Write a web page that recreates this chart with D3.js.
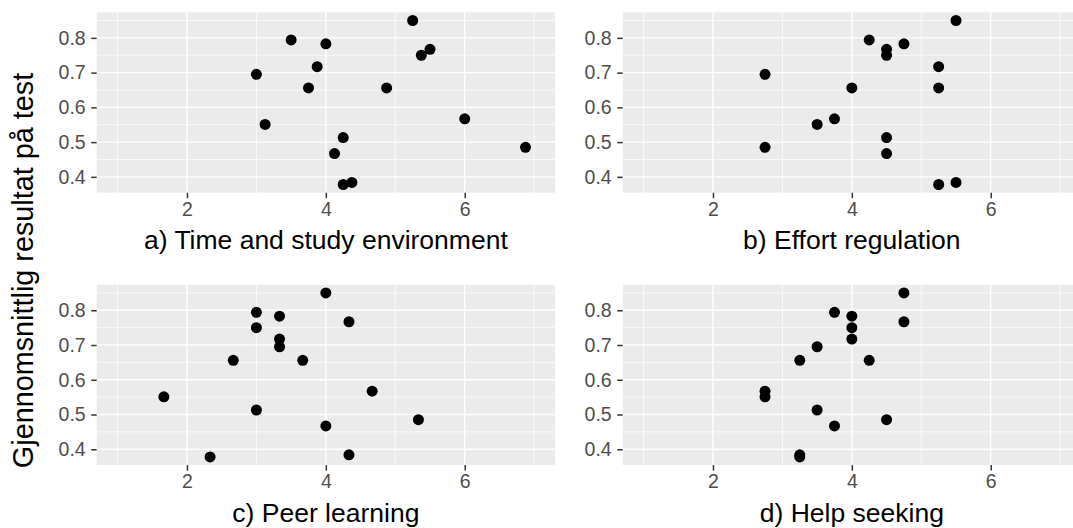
<!DOCTYPE html>
<html>
<head>
<meta charset="utf-8">
<script src="https://cdn.jsdelivr.net/npm/d3@7"></script>
<style>
  body { margin: 0; background: #fff; }
  svg { display: block; font-family: "Liberation Sans", Arial, sans-serif; }
</style>
</head>
<body>
<div class="chart"></div>
<script>
// average test score per student (same students in every panel)
var scores = [0.850, 0.794, 0.783, 0.767, 0.750, 0.717, 0.695, 0.656, 0.656, 0.567, 0.551, 0.513, 0.485, 0.467, 0.378, 0.384]

// self-regulation scale values, one array per panel
var timeEnv = [5.25, 3.5, 4.0, 5.5, 5.375, 3.875, 3.0, 3.75, 4.875, 6.0, 3.125, 4.25, 6.875, 4.125, 4.25, 4.375]
var effort  = [5.5, 4.25, 4.75, 4.5, 4.5, 5.25, 2.75, 4.0, 5.25, 3.75, 3.5, 4.5, 2.75, 4.5, 5.25, 5.5]
var peer    = [4.0, 3.0, 3.333, 4.333, 3.0, 3.333, 3.333, 2.667, 3.667, 4.667, 1.667, 3.0, 5.333, 4.0, 2.333, 4.333]
var help    = [4.75, 3.75, 4.0, 4.75, 4.0, 4.0, 3.5, 3.25, 4.25, 2.75, 2.75, 3.5, 4.5, 3.75, 3.25, 3.25]

var panelTitles = ["a) Time and study environment", "b) Effort regulation", "c) Peer learning", "d) Help seeking"]
var xLimits = [1, 7]
var xTicks = [2, 4, 6]
var xMinor = [1, 3, 5, 7]
var yTicks = [0.4, 0.5, 0.6, 0.7, 0.8]
var yMinor = [0.35, 0.45, 0.55, 0.65, 0.75, 0.85]
var yTitle = "Gjennomsnittlig resultat på test"

var W = 1073, H = 528
var pw = 458.3, ph = 180.4
var lefts = [96.7, 622.7], tops = [12.3, 284.7]

// ggplot style 5% expansion
function expand(ext) {
    var d = (ext[1] - ext[0]) * 0.05
    return [ext[0] - d, ext[1] + d]
}

var x = d3.scaleLinear().domain(expand(xLimits)).range([0, pw])
var y = d3.scaleLinear().domain(expand(d3.extent(scores))).range([ph, 0])

var svg = d3.select(".chart").append("svg")
    .attr("width", W).attr("height", H)

var series = [timeEnv, effort, peer, help]

series.forEach(function(xs, i) {
    var g = svg.append("g")
        .attr("transform", "translate(" + lefts[i % 2] + "," + tops[Math.floor(i / 2)] + ")")

    g.append("rect").attr("width", pw).attr("height", ph).attr("fill", "#EBEBEB")

    // minor grid
    g.selectAll(".vmin").data(xMinor).enter().append("line")
        .attr("x1", x).attr("x2", x).attr("y1", 0).attr("y2", ph)
        .attr("stroke", "#fff").attr("stroke-width", 0.7)
    g.selectAll(".hmin").data(yMinor.filter(function(v) { return y(v) >= 0 && y(v) <= ph }))
        .enter().append("line")
        .attr("y1", y).attr("y2", y).attr("x1", 0).attr("x2", pw)
        .attr("stroke", "#fff").attr("stroke-width", 0.7)
    // major grid
    g.selectAll(".vmaj").data(xTicks).enter().append("line")
        .attr("x1", x).attr("x2", x).attr("y1", 0).attr("y2", ph)
        .attr("stroke", "#fff").attr("stroke-width", 1.4)
    g.selectAll(".hmaj").data(yTicks).enter().append("line")
        .attr("y1", y).attr("y2", y).attr("x1", 0).attr("x2", pw)
        .attr("stroke", "#fff").attr("stroke-width", 1.4)

    // axes
    var xa = g.append("g").attr("transform", "translate(0," + ph + ")")
        .call(d3.axisBottom(x).tickValues(xTicks).tickSize(5.5).tickPadding(4).tickFormat(d3.format("d")))
    var ya = g.append("g")
        .call(d3.axisLeft(y).tickValues(yTicks).tickSize(5.5).tickPadding(5.5).tickFormat(d3.format(".1f")))
    ;[xa, ya].forEach(function(a) {
        a.select(".domain").remove()
        a.selectAll(".tick line").attr("stroke", "#333333").attr("stroke-width", 1.5)
        a.selectAll(".tick text").attr("fill", "#4D4D4D").style("font-size", "19.5px")
            .style("font-family", "'Liberation Sans', Arial, sans-serif")
    })

    g.selectAll("circle").data(xs).enter().append("circle")
        .attr("cx", function(d) { return x(d) })
        .attr("cy", function(d, j) { return y(scores[j]) })
        .attr("r", 5.5)
        .attr("fill", "#000")

    g.append("text")
        .attr("x", pw / 2).attr("y", ph + 56.5)
        .attr("text-anchor", "middle")
        .style("font-size", "26.5px")
        .text(panelTitles[i])
})

svg.append("text")
    .attr("transform", "translate(33.3,270.5) rotate(-90)")
    .attr("text-anchor", "middle")
    .style("font-size", "28.8px")
    .text(yTitle)
</script>
</body>
</html>
